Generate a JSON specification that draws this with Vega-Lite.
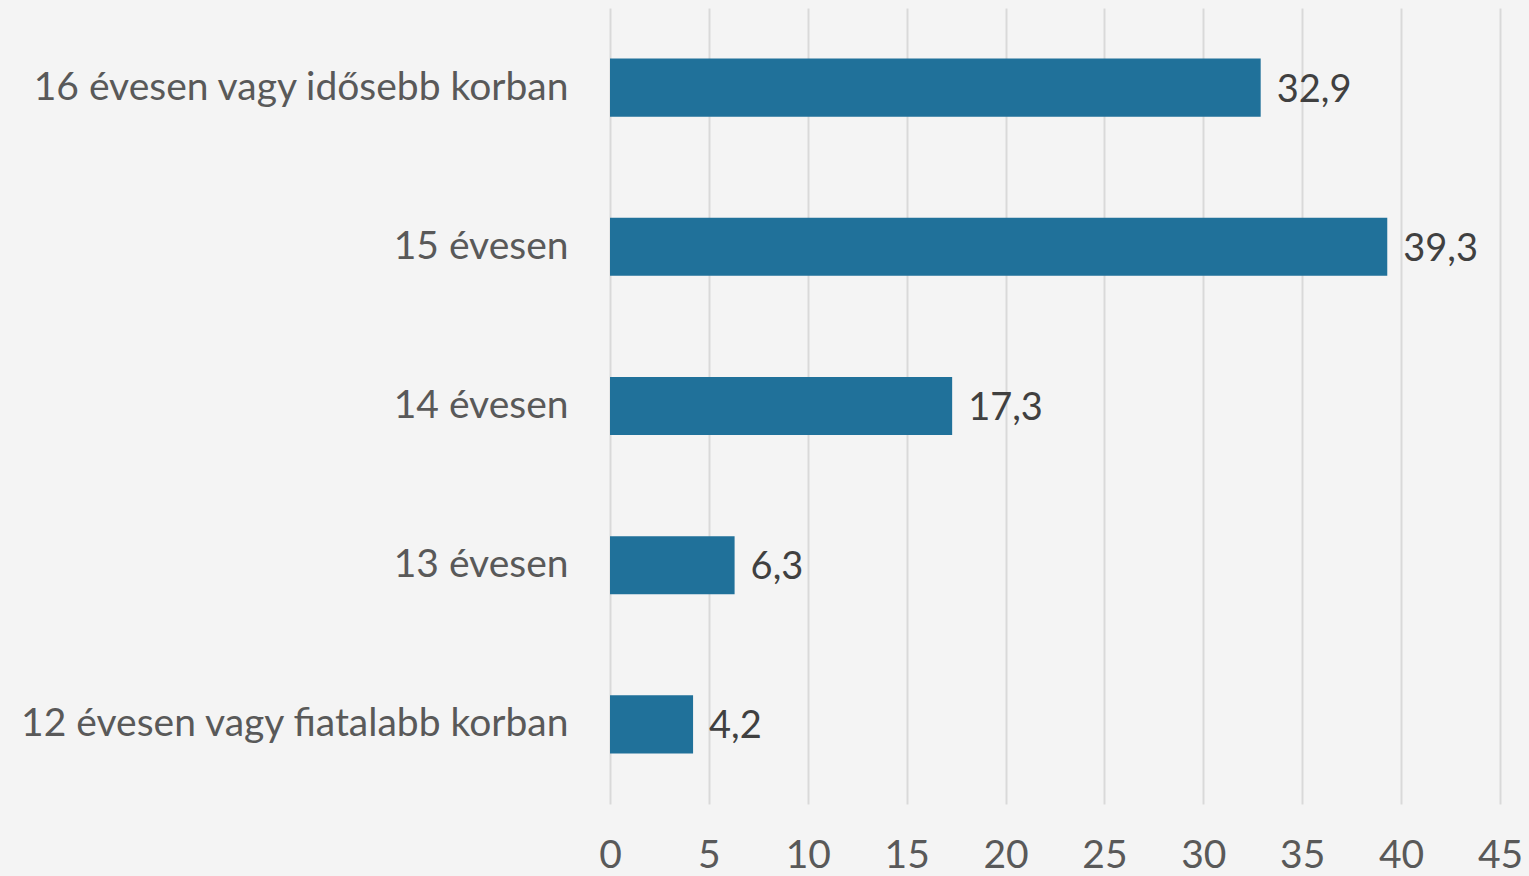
{
  "$schema": "https://vega.github.io/schema/vega-lite/v6.json",
  "width": 890,
  "height": 796,
  "autosize": {"type": "none"},
  "padding": {"left": 610, "top": 8, "right": 29, "bottom": 72},
  "background": "#f4f4f4",
  "config": {
    "view": {"stroke": null},
    "locale": {"number": {"decimal": ",", "thousands": " ", "grouping": [3], "currency": ["", " Ft"]}},
    "font": "Lato"
  },
  "data": {
    "values": [
      {"kor": "16 évesen vagy idősebb korban", "ertek": 32.9},
      {"kor": "15 évesen", "ertek": 39.3},
      {"kor": "14 évesen", "ertek": 17.3},
      {"kor": "13 évesen", "ertek": 6.3},
      {"kor": "12 évesen vagy fiatalabb korban", "ertek": 4.2}
    ]
  },
  "encoding": {
    "y": {
      "field": "kor", "type": "nominal", "sort": null, "title": null,
      "scale": {"paddingInner": 0.635, "paddingOuter": 0.3175},
      "axis": {"domain": false, "ticks": false, "labelPadding": 42, "labelFontSize": 39, "labelColor": "#595959", "labelLimit": 700, "grid": false}
    },
    "x": {
      "field": "ertek", "type": "quantitative", "title": null,
      "scale": {"domain": [0, 45], "nice": false},
      "axis": {"values": [0,5,10,15,20,25,30,35,40,45], "domain": false, "ticks": false, "tickSize": 0, "labelPadding": 32, "labelFontSize": 39, "labelColor": "#595959", "labelFlush": false, "labelOverlap": false, "labelBound": false, "gridColor": "#d9d9d9", "gridWidth": 2, "format": "d"}
    }
  },
  "layer": [
    {"mark": {"type": "bar", "color": "#20719A"}},
    {"mark": {"type": "text", "align": "left", "dx": 16, "dy": 3, "fontSize": 38, "color": "#404040"},
     "encoding": {"text": {"field": "ertek", "type": "quantitative", "format": ".1f"}}}
  ]
}
